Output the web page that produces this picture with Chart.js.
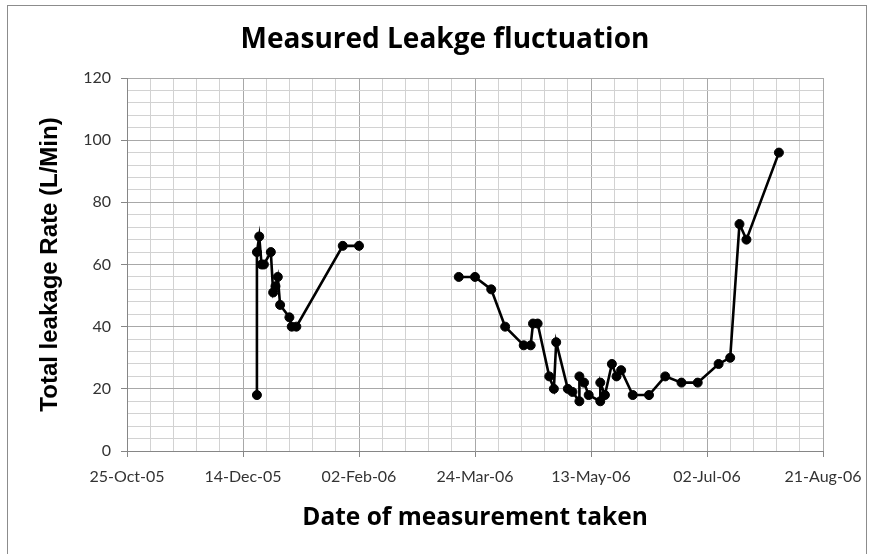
<!DOCTYPE html>
<html lang="en">
<head>
<meta charset="UTF-8">
<title>Measured Leakge fluctuation</title>
<style>
  body { margin: 0; background: #fff; }
  #wrap { position: relative; width: 873px; height: 554px; overflow: hidden; }
  #frame { position: absolute; left: 7px; top: 5px; width: 858px; height: 600px; border: 1px solid #8c8c8c; }
  #chart { position: absolute; left: 0; top: 0; }
</style>
</head>
<body>
<div id="wrap">
  <div id="frame"></div>
  <canvas id="chart" width="873" height="554"></canvas>
</div>

<script src="https://cdn.jsdelivr.net/npm/chart.js"></script>
<script>
  // x axis starts at 25-Oct-05, ticks every 50 days
  const startDate = '2005-10-25';
  const xTickLabels = ['25-Oct-05', '14-Dec-05', '02-Feb-06', '24-Mar-06', '13-May-06', '02-Jul-06', '21-Aug-06'];

  // first run of measurements (Dec 05 - Feb 06)
  const winterDates = ['2005-12-20', '2005-12-20', '2005-12-21', '2005-12-22', '2005-12-23', '2005-12-26',
    '2005-12-27', '2005-12-28', '2005-12-29', '2005-12-30', '2006-01-03', '2006-01-04', '2006-01-06',
    '2006-01-26', '2006-02-02'];
  const winterRates = [18, 64, 69, 60, 60, 64, 51, 53, 56, 47, 43, 40, 40, 66, 66];

  // second run (Mar 06 - Aug 06)
  const springDates = ['2006-03-17', '2006-03-24', '2006-03-31', '2006-04-06', '2006-04-14', '2006-04-17',
    '2006-04-18', '2006-04-20', '2006-04-25', '2006-04-27', '2006-04-28', '2006-05-03', '2006-05-05',
    '2006-05-08', '2006-05-08', '2006-05-10', '2006-05-12', '2006-05-17', '2006-05-17', '2006-05-19',
    '2006-05-22', '2006-05-24', '2006-05-26', '2006-05-31', '2006-06-07', '2006-06-14', '2006-06-21',
    '2006-06-28', '2006-07-07', '2006-07-12', '2006-07-16', '2006-07-19', '2006-08-02'];
  const springRates = [56, 56, 52, 40, 34, 34, 41, 41, 24, 20, 35, 20, 19, 16, 24, 22, 18, 16, 22, 18,
    28, 24, 26, 18, 18, 24, 22, 22, 28, 30, 73, 68, 96];

  const chartTitle = 'Measured Leakge fluctuation';

  const dayOf = d => (Date.parse(d) - Date.parse(startDate)) / 86400000;
  const toPoints = (dates, rates) => dates.map((d, i) => ({ x: dayOf(d), y: rates[i] }));

  const majorGrid = '#a8a8a8';
  const minorGrid = '#d2d2d2';
  const axisGrey = '#868686';

  const seriesStyle = {
    borderColor: '#000',
    backgroundColor: '#000',
    borderWidth: 2.6,
    pointRadius: 4.5,
    pointBorderWidth: 1,
    pointBackgroundColor: '#000',
    showLine: true,
    tension: 0
  };

  // the title sits a little left of the plot centre, so draw it by hand
  const titlePlugin = {
    id: 'topTitle',
    afterDraw(chart) {
      const ctx = chart.ctx;
      ctx.save();
      ctx.font = 'bold 28px "Open Sans"';
      ctx.fillStyle = '#000';
      ctx.textAlign = 'center';
      ctx.textBaseline = 'middle';
      ctx.fillText(chartTitle, 445, 40);
      ctx.restore();
    }
  };

  new Chart(document.getElementById('chart'), {
    type: 'scatter',
    data: {
      datasets: [
        Object.assign({ label: 'Dec-Feb', data: toPoints(winterDates, winterRates) }, seriesStyle),
        Object.assign({ label: 'Mar-Aug', data: toPoints(springDates, springRates) }, seriesStyle)
      ]
    },
    plugins: [titlePlugin],
    options: {
      responsive: false,
      animation: false,
      layout: { padding: { left: 0, right: 50, top: 78, bottom: 0 } },
      plugins: {
        legend: { display: false },
        tooltip: { enabled: false }
      },
      scales: {
        x: {
          type: 'linear',
          min: 0,
          max: 300,
          afterFit: s => { s.height = 103; },
          ticks: {
            stepSize: 10,
            autoSkip: false,
            maxRotation: 0,
            padding: 10,
            color: '#333',
            font: { family: 'Lato', size: 16 },
            callback: v => (v % 50 === 0 ? xTickLabels[v / 50] : '')
          },
          grid: {
            color: c => (c.tick && c.tick.value % 50 === 0 ? majorGrid : minorGrid),
            tickColor: c => (c.tick && c.tick.value % 50 === 0 ? axisGrey : 'transparent'),
            tickLength: 6
          },
          border: { color: axisGrey },
          title: {
            display: true,
            text: 'Date of measurement taken',
            color: '#000',
            font: { family: 'Open Sans', size: 24.5, weight: 'bold' },
            padding: { top: 0, bottom: 21 }
          }
        },
        y: {
          min: 0,
          max: 120,
          afterFit: s => { s.width = 127; },
          ticks: {
            stepSize: 4,
            autoSkip: false,
            padding: 10,
            color: '#333',
            font: { family: 'Lato', size: 16 },
            callback: v => (v % 20 === 0 ? v : '')
          },
          grid: {
            color: c => (c.tick && c.tick.value % 20 === 0 ? majorGrid : minorGrid),
            tickColor: c => (c.tick && c.tick.value % 20 === 0 ? axisGrey : 'transparent'),
            tickLength: 6
          },
          border: { color: axisGrey },
          title: {
            display: true,
            text: 'Total leakage Rate (L/Min)',
            color: '#000',
            font: { family: 'Liberation Sans', size: 24, weight: 'bold' },
            padding: { top: 36, bottom: 0 }
          }
        }
      }
    }
  });
</script>
</body>
</html>
